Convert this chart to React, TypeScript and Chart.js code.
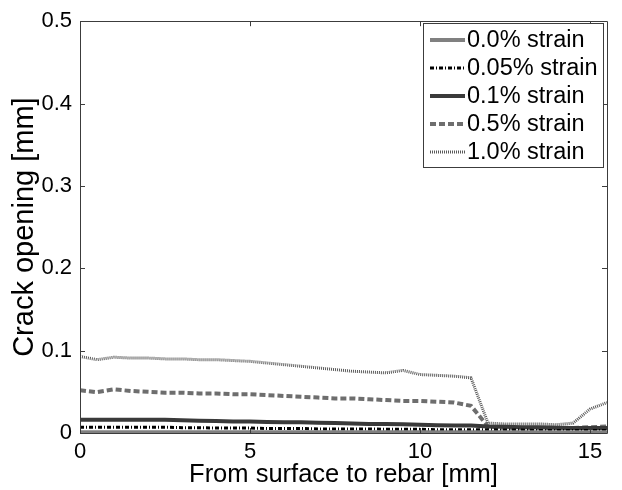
import React, { useEffect, useRef } from "react";
import { Chart, registerables } from "chart.js";

Chart.register(...registerables);

const xPositions = [0, 0.5, 1, 1.5, 2, 2.5, 3, 3.5, 4, 4.5, 5, 5.5, 6, 6.5, 7, 7.5, 8, 8.5, 9, 9.5, 10, 10.5, 11, 11.5, 12, 12.5, 13, 13.5, 14, 14.5, 15, 15.5];

const strain00 = [0.001, 0.001, 0.001, 0.001, 0.001, 0.001, 0.001, 0.001, 0.001, 0.001, 0.001, 0.001, 0.001, 0.001, 0.001, 0.001, 0.001, 0.001, 0.001, 0.001, 0.001, 0.001, 0.001, 0.001, 0.001, 0.001, 0.001, 0.001, 0.001, 0.001, 0.001, 0.001];
const strain005 = [0.007, 0.007, 0.007, 0.007, 0.007, 0.007, 0.0065, 0.0065, 0.006, 0.006, 0.006, 0.0055, 0.0055, 0.0055, 0.005, 0.005, 0.005, 0.005, 0.0045, 0.0045, 0.0045, 0.004, 0.004, 0.004, 0.004, 0.0035, 0.0035, 0.003, 0.003, 0.003, 0.003, 0.003];
const strain01 = [0.016, 0.016, 0.016, 0.016, 0.016, 0.016, 0.0155, 0.015, 0.0145, 0.014, 0.014, 0.0135, 0.013, 0.013, 0.0125, 0.012, 0.0115, 0.011, 0.011, 0.0105, 0.01, 0.0095, 0.009, 0.009, 0.008, 0.0075, 0.007, 0.007, 0.0065, 0.006, 0.006, 0.006];
const strain05 = [0.052, 0.0495, 0.053, 0.051, 0.05, 0.049, 0.049, 0.048, 0.048, 0.047, 0.047, 0.046, 0.045, 0.044, 0.043, 0.042, 0.042, 0.041, 0.04, 0.039, 0.039, 0.038, 0.037, 0.033, 0.008, 0.006, 0.006, 0.006, 0.006, 0.006, 0.007, 0.008];
const strain10 = [0.093, 0.089, 0.092, 0.091, 0.091, 0.09, 0.09, 0.089, 0.089, 0.088, 0.087, 0.085, 0.083, 0.081, 0.079, 0.077, 0.075, 0.074, 0.073, 0.076, 0.071, 0.07, 0.069, 0.067, 0.012, 0.011, 0.011, 0.011, 0.01, 0.012, 0.029, 0.037];

const xTickValues = [0, 5, 10, 15];
const seriesLabels = ["0.0% strain", "0.05% strain", "0.1% strain", "0.5% strain", "1.0% strain"];

const FONT = "Arial, 'Liberation Sans', sans-serif";

const styles = [
  { color: "#808080", width: 4, dash: [] as number[] },
  { color: "#000000", width: 3, dash: [4, 2, 1, 2] },
  { color: "#3a3a3a", width: 4, dash: [] as number[] },
  { color: "#6e6e6e", width: 4, dash: [6, 3] },
  { color: "#5a5a5a", width: 3, dash: [1, 1] },
];

const framePlugin = {
  id: "frame",
  afterDraw(chart: any) {
    const { ctx, chartArea } = chart;
    const { left, right, top, bottom } = chartArea;
    const xs = chart.scales.x;
    const ys = chart.scales.y;
    ctx.save();
    ctx.strokeStyle = "#3c3c3c";
    ctx.lineWidth = 1;
    ctx.setLineDash([]);
    ctx.beginPath();
    ctx.rect(Math.round(left) + 0.5, Math.round(top) + 0.5, Math.round(right - left), Math.round(bottom - top));
    ctx.stroke();
    const tl = 5;
    ctx.beginPath();
    xs.ticks.forEach((t: any) => {
      const px = Math.round(xs.getPixelForValue(t.value)) + 0.5;
      ctx.moveTo(px, bottom);
      ctx.lineTo(px, bottom - tl);
      ctx.moveTo(px, top);
      ctx.lineTo(px, top + tl);
    });
    ys.ticks.forEach((t: any) => {
      const py = Math.round(ys.getPixelForValue(t.value)) + 0.5;
      ctx.moveTo(left, py);
      ctx.lineTo(left + tl, py);
      ctx.moveTo(right, py);
      ctx.lineTo(right - tl, py);
    });
    ctx.stroke();

    // legend
    const lx = 423, ly = 23, lw = 180, lh = 144;
    ctx.fillStyle = "#ffffff";
    ctx.fillRect(lx, ly, lw, lh);
    ctx.strokeStyle = "#3c3c3c";
    ctx.strokeRect(lx + 0.5, ly + 0.5, lw, lh);
    ctx.font = `23.5px ${FONT}`;
    ctx.textBaseline = "middle";
    ctx.textAlign = "left";
    seriesLabels.forEach((lab, i) => {
      const cy = 40 + i * 28;
      const s = styles[i];
      ctx.strokeStyle = s.color;
      ctx.lineWidth = s.width;
      ctx.setLineDash(s.dash);
      ctx.beginPath();
      ctx.moveTo(430, cy);
      ctx.lineTo(465, cy);
      ctx.stroke();
      ctx.setLineDash([]);
      ctx.fillStyle = "#000000";
      ctx.fillText(lab, 467, cy + 1);
    });
    ctx.restore();
  },
};

export default function App() {
  const ref = useRef<HTMLCanvasElement>(null);
  useEffect(() => {
    if (!ref.current) return;
    const seriesData = [strain00, strain005, strain01, strain05, strain10];
    const chart = new Chart(ref.current, {
      type: "line",
      data: {
        datasets: seriesData.map((arr, i) => ({
          label: seriesLabels[i],
          data: arr.map((v, j) => ({ x: xPositions[j], y: v })),
          borderColor: styles[i].color,
          borderWidth: styles[i].width,
          borderDash: styles[i].dash,
          pointRadius: 0,
          fill: false,
          tension: 0,
        })),
      },
      options: {
        animation: false,
        responsive: false,
        events: [],
        layout: { padding: { left: 0, right: 15, top: 16, bottom: 0 } },
        plugins: { legend: { display: false }, tooltip: { enabled: false } },
        scales: {
          x: {
            type: "linear",
            min: 0,
            max: 15.5,
            afterBuildTicks: (scale: any) => {
              scale.ticks = xTickValues.map((v) => ({ value: v }));
            },
            afterFit: (scale: any) => {
              scale.height = 57;
            },
            grid: { display: false, drawTicks: false },
            border: { display: false },
            ticks: {
              color: "#000",
              font: { family: FONT, size: 22 },
              padding: 6,
              maxRotation: 0,
              autoSkip: false,
            },
            title: {
              display: true,
              text: "From surface to rebar [mm]",
              color: "#000",
              font: { family: FONT, size: 25.5 },
              padding: { top: 0, bottom: 0 },
            },
          },
          y: {
            type: "linear",
            min: 0,
            max: 0.5,
            afterFit: (scale: any) => {
              scale.width = 80;
            },
            grid: { display: false, drawTicks: false },
            border: { display: false },
            ticks: {
              stepSize: 0.1,
              color: "#000",
              font: { family: FONT, size: 22 },
              padding: 8,
              callback: (v: any) => (Number(v) === 0 ? "0" : Number(v).toFixed(1)),
            },
            title: {
              display: true,
              text: "Crack opening [mm]",
              color: "#000",
              font: { family: FONT, size: 29 },
              padding: { top: 8, bottom: 0 },
            },
          },
        },
      },
      plugins: [framePlugin],
    });
    return () => chart.destroy();
  }, []);
  return (
    <div style={{ position: "fixed", left: 0, top: 0, width: 622, height: 490, background: "#fff" }}>
      <canvas ref={ref} width={622} height={490} style={{ display: "block" }} />
    </div>
  );
}
